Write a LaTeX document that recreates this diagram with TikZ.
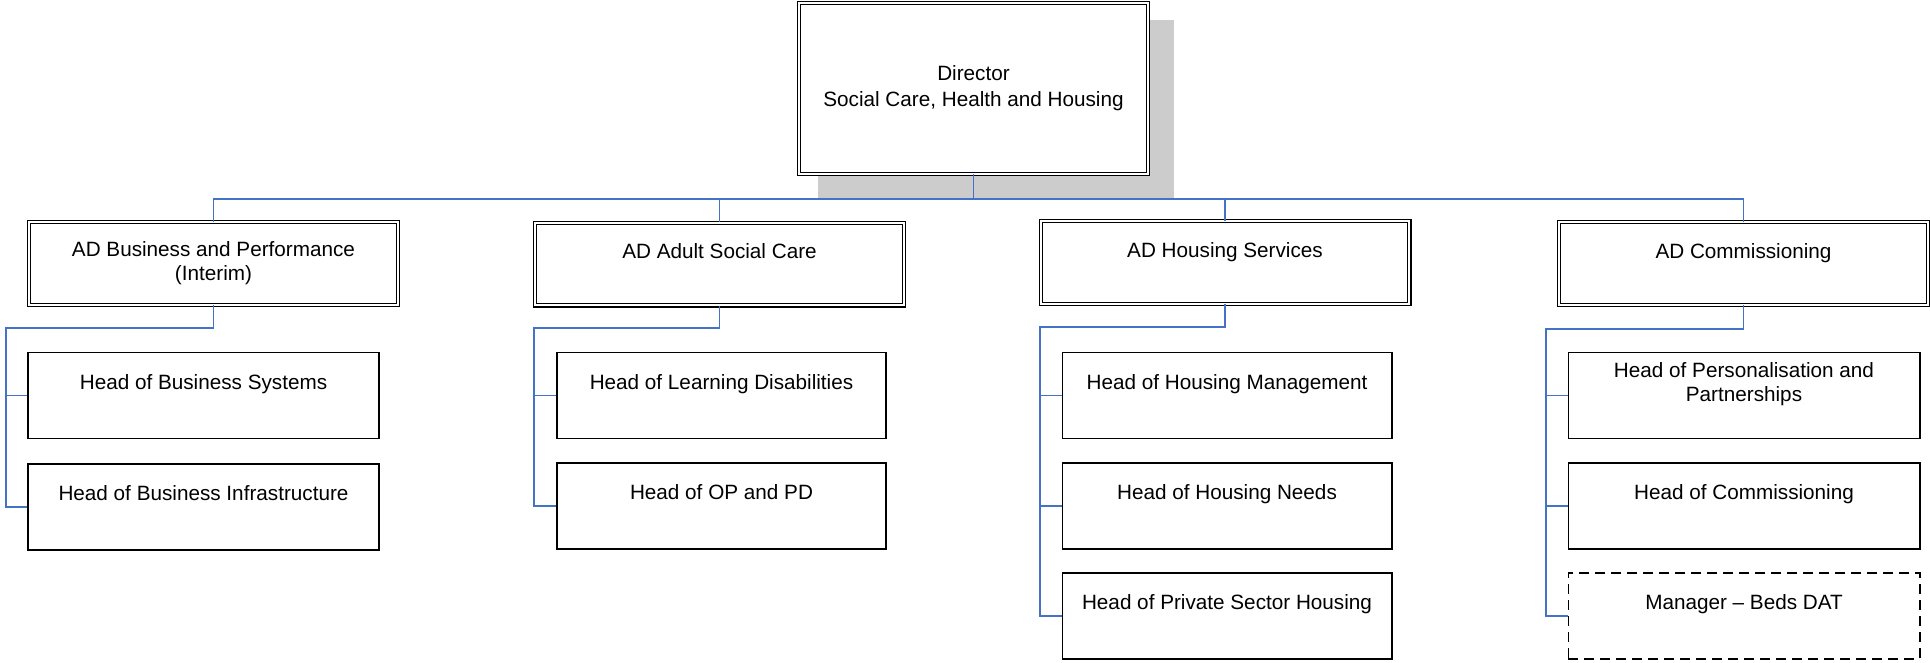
\documentclass[tikz,border=0pt]{standalone}
\usepackage{fontspec}
\setmainfont{Liberation Sans}
\usetikzlibrary{backgrounds}
\definecolor{connblue}{RGB}{68,114,196}
\definecolor{shadowgray}{RGB}{204,204,204}
\newcommand{\blankline}[1]{\\[#1]\mbox{}}
\begin{document}
\begin{tikzpicture}[x=1pt,y=-1pt,
  base/.style={draw=black, fill=white, align=center, inner sep=0pt, font=\fontsize{20.7}{24}\selectfont},
  dirbox/.style={base, line width=1.3pt, double=white, double distance=1.8pt, minimum width=348.6pt, minimum height=170.6pt, font=\fontsize{20.7}{26}\selectfont},
  adbox/.style={base, line width=1.3pt, double=white, double distance=1.8pt, minimum width=368.6pt, minimum height=82.6pt},
  childbox/.style={base, line width=1.6pt, minimum width=#1, minimum height=86pt},
  vacant/.style={childbox=#1, dash pattern=on 10pt off 6pt},
  conn/.style={draw=connblue, line width=1.8pt}
]
\useasboundingbox (0,0) rectangle (1930,662);

% Director
\node[dirbox] (dir) at (973.5,88.5) {Director\\Social Care, Health and Housing};
\begin{scope}[on background layer]
\fill[shadowgray] ([shift={(19.8,17.8)}]dir.north west) rectangle ([shift={(25.2,24.2)}]dir.south east);
\end{scope}

% Assistant directors
\node[adbox] (ad1) at (213.5,263.5) {AD Business and Performance\\(Interim)};
\node[adbox] (ad2) at (719.5,264) {AD Adult Social Care\blankline{2pt}};
\node[adbox] (ad3) at (1225,262.5) {AD Housing Services\blankline{2pt}};
\node[adbox] (ad4) at (1743.5,263.5) {AD Commissioning\blankline{2pt}};

% Heads
\node[childbox=351.4pt] (c11) at (203.5,395.5) {Head of Business Systems\blankline{4pt}};
\node[childbox=351.4pt] (c12) at (203.5,507) {Head of Business Infrastructure\blankline{4pt}};

\node[childbox=329.4pt] (c21) at (721.5,395.5) {Head of Learning Disabilities\blankline{4pt}};
\node[childbox=329.4pt] (c22) at (721.5,506) {Head of OP and PD\blankline{4pt}};

\node[childbox=329.4pt] (c31) at (1227,395.5) {Head of Housing Management\blankline{4pt}};
\node[childbox=329.4pt] (c32) at (1227,506) {Head of Housing Needs\blankline{4pt}};
\node[childbox=329.4pt] (c33) at (1227,616) {Head of Private Sector Housing\blankline{4pt}};

\node[childbox=351.4pt] (c41) at (1744,395.5) {Head of Personalisation and\\Partnerships\blankline{4pt}};
\node[childbox=351.4pt] (c42) at (1744,506) {Head of Commissioning\blankline{4pt}};
\node[vacant=351.4pt] (c43) at (1744,616) {Manager – Beds DAT\blankline{4pt}};

% Top bus
\coordinate (bus) at (0,199);
\draw[conn] (dir.south) -- (dir.south |- bus);
\draw[conn] (ad1.north) -- (ad1.north |- bus) -- (ad4.north |- bus) -- (ad4.north);
\draw[conn] (ad2.north) -- (ad2.north |- bus);
\draw[conn] (ad3.north) -- (ad3.north |- bus);

% Brackets
\coordinate (b1) at (6,328);
\draw[conn] (ad1.south) |- (b1) |- (c12.west);
\draw[conn] (b1 |- c11.west) -- (c11.west);

\coordinate (b2) at (534,328);
\draw[conn] (ad2.south) |- (b2) |- (c22.west);
\draw[conn] (b2 |- c21.west) -- (c21.west);

\coordinate (b3) at (1040,327);
\draw[conn] (ad3.south) |- (b3) |- (c33.west);
\draw[conn] (b3 |- c31.west) -- (c31.west);
\draw[conn] (b3 |- c32.west) -- (c32.west);

\coordinate (b4) at (1546,329);
\draw[conn] (ad4.south) |- (b4) |- (c43.west);
\draw[conn] (b4 |- c41.west) -- (c41.west);
\draw[conn] (b4 |- c42.west) -- (c42.west);
\end{tikzpicture}
\end{document}
